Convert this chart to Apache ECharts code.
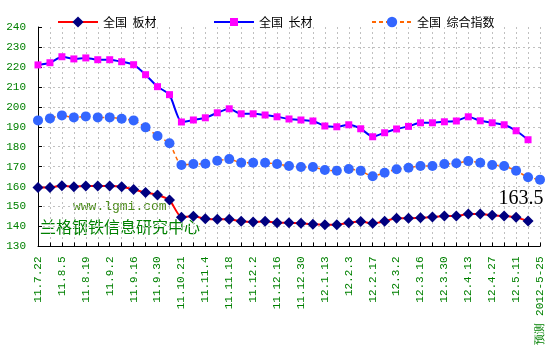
<!DOCTYPE html>
<html>
<head>
<meta charset="utf-8">
<script src="https://cdn.jsdelivr.net/npm/echarts@6/dist/echarts.min.js"></script>
<style>
html,body{margin:0;padding:0;background:#fff;}
#chart{width:555px;height:359px;}
</style>
</head>
<body>
<div id="chart"></div>
<script>
var categories = ['11.7.22','11.7.29','11.8.5','11.8.12','11.8.19','11.8.26','11.9.2','11.9.9','11.9.16','11.9.23',
  '11.9.30','11.10.14','11.10.21','11.10.28','11.11.4','11.11.11','11.11.18','11.11.25','11.12.2','11.12.9',
  '11.12.16','11.12.23','11.12.30','12.1.6','12.1.13','12.1.20','12.2.3','12.2.10','12.2.17','12.2.24',
  '12.3.2','12.3.9','12.3.16','12.3.23','12.3.30','12.4.6','12.4.13','12.4.20','12.4.27','12.5.4',
  '12.5.11','12.5.18','预测 2012-5-25'];

var banCai = [159.6,159.6,160.5,160.0,160.3,160.3,160.3,160.0,158.6,157.1,
  155.8,153.3,144.7,145.1,143.9,143.6,143.6,142.6,142.3,142.6,
  141.9,141.9,141.6,141.1,140.9,140.9,141.9,142.5,141.6,142.6,
  144.1,144.1,144.4,144.8,145.3,145.3,146.3,146.3,145.6,145.3,
  144.6,142.8,null];

var changCai = [221.0,222.1,225.1,224.0,224.5,223.6,223.6,222.6,221.1,216.1,
  210.1,206.1,192.4,193.4,194.5,197.0,199.0,196.5,196.5,195.9,
  195.0,193.9,193.4,192.9,190.4,190.0,191.0,189.0,185.0,187.0,
  188.9,190.2,192.0,192.0,192.5,192.9,195.0,193.0,192.0,191.0,
  188.0,183.5,null];

var zongHe = [193.2,194.2,195.7,194.7,195.2,194.7,194.7,194.0,193.2,189.7,
  185.4,181.7,170.8,171.3,171.5,173.0,173.8,172.0,172.0,172.0,
  171.3,170.3,169.8,169.8,168.3,168.0,168.8,167.9,165.2,167.0,
  168.7,169.5,170.3,170.3,171.3,171.7,172.8,172.0,170.8,170.3,
  168.0,164.7,163.5];

var seriesNames = ['全国  板材','全国  长材','全国  综合指数'];
var yTicks = {min:130, max:240, interval:10};
var watermark = ['www.lgmi.com','兰格钢铁信息研究中心'];

var zongHeData = zongHe.map(function(v,i){
  if (i === zongHe.length-1) {
    return {value:v, label:{show:true, position:'bottom', distance:4, offset:[-19,0],
      formatter:function(p){return p.value.toFixed(1);},
      color:'#000', fontFamily:'Liberation Serif', fontSize:20}};
  }
  return v;
});

var green = '#008000';
var chart = echarts.init(document.getElementById('chart'), null, {renderer:'canvas'});
function legendCfg(name, left, h) {
  return {data:[name], left:left, top:10, itemWidth:40, itemHeight:h, itemGap:4,
    textStyle:{fontSize:12, color:'#000', fontFamily:'Noto Sans CJK SC', lineHeight:14}};
}
chart.setOption({
  animation:false,
  backgroundColor:'#fff',
  legend:[
    legendCfg(seriesNames[0], 52, 14),
    legendCfg(seriesNames[1], 208, 10),
    legendCfg(seriesNames[2], 366, 13)
  ],
  grid:{left:38, right:15, top:27, bottom:112.5, containLabel:false},
  graphic:[
    {type:'text', left:73, top:200, z:-1, style:{text:watermark[0], fill:'#4a8a1a',
      font:'13px "Liberation Mono"'}},
    {type:'text', left:40, top:219, z:-1, style:{text:watermark[1], fill:green,
      font:'16px "Noto Sans CJK SC"'}}
  ],
  xAxis:{
    type:'category', data:categories, boundaryGap:false,
    axisLine:{show:true, lineStyle:{color:'#000', width:1}},
    axisTick:{show:true, inside:true, length:4, interval:0, lineStyle:{color:'#000'}},
    axisLabel:{interval:1, rotate:90, margin:10, color:green, fontSize:11,
      fontFamily:'Liberation Mono'},
    splitLine:{show:true, interval:0, lineStyle:{color:'#c0c0c0', type:[2,3], width:1}}
  },
  yAxis:{
    type:'value', min:yTicks.min, max:yTicks.max, interval:yTicks.interval,
    axisLine:{show:true, lineStyle:{color:'#000', width:1}},
    axisTick:{show:true, inside:true, length:4, lineStyle:{color:'#000'}},
    axisLabel:{margin:12, color:green, fontSize:11, fontFamily:'Liberation Mono'},
    splitLine:{show:true, showMaxLine:false, lineStyle:{color:'#c0c0c0', type:[2,3], width:1}}
  },
  series:[
    {name:seriesNames[0], type:'line', data:banCai, smooth:0.2,
      symbol:'diamond', symbolSize:11, showAllSymbol:true,
      lineStyle:{color:'#ff0000', width:2},
      itemStyle:{color:'#000080'}, z:2},
    {name:seriesNames[1], type:'line', data:changCai, smooth:0.2,
      symbol:'rect', symbolSize:7, showAllSymbol:true,
      lineStyle:{color:'#0000ff', width:2},
      itemStyle:{color:'#ff00ff'}, z:3},
    {name:seriesNames[2], type:'line', data:zongHeData, smooth:0.2,
      symbol:'circle', symbolSize:10, showAllSymbol:true,
      lineStyle:{color:'#ff6600', width:1.5, type:[4,3]},
      itemStyle:{color:'#3366ff'}, z:4}
  ]
});
</script>
</body>
</html>
